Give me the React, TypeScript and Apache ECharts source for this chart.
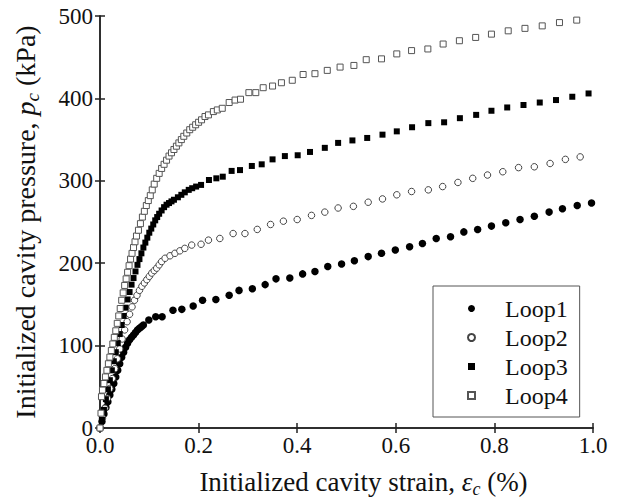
import React, { useEffect, useRef } from "react";
import * as echarts from "echarts";

const xTicks = [0, 0.2, 0.4, 0.6, 0.8, 1.0];
const yTicks = [0, 100, 200, 300, 400, 500];
const seriesNames = ["Loop1", "Loop2", "Loop3", "Loop4"];

const loop1 = [
  [0, 0], [0.004, 8], [0.008, 17], [0.012, 25], [0.016, 32], [0.02, 40], [0.024, 47], [0.028, 54],
  [0.032, 62], [0.036, 70], [0.04, 78], [0.044, 86], [0.048, 92], [0.052, 98], [0.056, 103], [0.06, 107],
  [0.064, 110], [0.068, 113], [0.072, 116], [0.076, 119], [0.08, 121], [0.084, 123], [0.088, 125],
  [0.099, 131], [0.113, 135], [0.126, 135], [0.148, 143], [0.166, 144], [0.189, 148], [0.208, 155],
  [0.235, 156], [0.262, 161], [0.282, 167], [0.309, 169], [0.335, 174], [0.357, 181], [0.385, 182],
  [0.411, 187], [0.436, 190], [0.462, 196], [0.49, 199], [0.516, 203], [0.544, 208], [0.571, 212],
  [0.599, 216], [0.628, 220], [0.654, 224], [0.682, 230], [0.711, 232], [0.738, 238], [0.766, 241],
  [0.794, 245], [0.823, 249], [0.852, 253], [0.881, 257], [0.911, 262], [0.938, 266], [0.968, 270],
  [0.997, 273],
];

const loop2 = [
  [0, 0], [0.005, 12], [0.01, 24], [0.015, 36], [0.02, 48], [0.025, 60], [0.03, 72], [0.035, 84],
  [0.04, 96], [0.045, 108], [0.05, 119], [0.055, 129], [0.06, 138], [0.065, 147], [0.07, 155],
  [0.075, 161], [0.08, 167], [0.085, 172], [0.09, 176], [0.095, 180], [0.1, 184], [0.105, 188],
  [0.11, 191], [0.115, 194], [0.12, 198], [0.125, 202], [0.132, 206], [0.142, 209], [0.152, 212],
  [0.162, 215], [0.172, 218], [0.186, 222], [0.205, 223], [0.22, 228], [0.243, 230], [0.27, 236],
  [0.294, 236], [0.319, 241], [0.346, 247], [0.372, 251], [0.4, 253], [0.429, 258], [0.456, 262],
  [0.483, 267], [0.514, 269], [0.544, 274], [0.573, 278], [0.602, 283], [0.632, 287], [0.666, 289],
  [0.695, 293], [0.726, 298], [0.756, 303], [0.786, 307], [0.817, 311], [0.849, 316], [0.881, 317],
  [0.913, 321], [0.944, 326], [0.974, 329],
];

const loop3 = [
  [0, 0], [0.004, 10], [0.008, 22], [0.012, 35], [0.016, 47], [0.02, 58], [0.024, 70], [0.028, 81],
  [0.032, 92], [0.036, 103], [0.04, 114], [0.044, 125], [0.048, 136], [0.052, 146], [0.056, 156],
  [0.06, 165], [0.064, 174], [0.068, 182], [0.072, 190], [0.076, 198], [0.08, 205], [0.084, 212],
  [0.088, 219], [0.092, 225], [0.096, 231], [0.1, 237], [0.104, 242], [0.108, 247], [0.112, 252],
  [0.116, 256], [0.12, 260], [0.125, 264], [0.13, 268], [0.135, 271], [0.14, 273], [0.145, 275],
  [0.15, 277], [0.158, 280], [0.165, 283], [0.172, 286], [0.18, 289], [0.187, 291], [0.195, 293],
  [0.205, 295], [0.221, 301], [0.236, 303], [0.249, 305], [0.267, 312], [0.284, 313], [0.308, 318],
  [0.328, 320], [0.35, 326], [0.375, 330], [0.401, 331], [0.426, 335], [0.456, 340], [0.483, 346],
  [0.512, 349], [0.542, 352], [0.573, 356], [0.602, 360], [0.633, 365], [0.666, 370], [0.698, 371],
  [0.73, 376], [0.763, 380], [0.794, 385], [0.826, 389], [0.859, 392], [0.892, 395], [0.925, 398],
  [0.958, 402], [0.991, 406],
];

const loop4 = [
  [0, 0], [0.002, 18], [0.003, 38], [0.005, 46], [0.008, 54], [0.011, 62], [0.014, 70], [0.017, 78],
  [0.02, 86], [0.023, 94], [0.026, 102], [0.029, 110], [0.032, 118], [0.035, 127], [0.038, 136],
  [0.041, 145], [0.044, 155], [0.047, 164], [0.05, 173], [0.053, 181], [0.056, 189], [0.059, 197],
  [0.062, 205], [0.065, 212], [0.068, 219], [0.071, 226], [0.074, 233], [0.078, 240], [0.082, 248],
  [0.086, 256], [0.09, 263], [0.094, 270], [0.098, 276], [0.102, 282], [0.106, 289], [0.11, 296],
  [0.115, 303], [0.12, 309], [0.125, 315], [0.13, 320], [0.135, 325], [0.14, 330], [0.145, 334],
  [0.15, 338], [0.155, 342], [0.16, 346], [0.165, 350], [0.17, 354], [0.176, 358], [0.182, 362],
  [0.188, 365], [0.194, 368], [0.2, 371], [0.206, 374], [0.213, 378], [0.22, 380], [0.23, 384],
  [0.238, 386], [0.248, 388], [0.262, 395], [0.274, 398], [0.285, 399], [0.302, 407], [0.316, 407],
  [0.331, 413], [0.35, 415], [0.368, 419], [0.39, 422], [0.412, 429], [0.436, 430], [0.461, 434],
  [0.487, 438], [0.515, 440], [0.54, 447], [0.571, 448], [0.602, 454], [0.632, 458], [0.665, 460],
  [0.696, 466], [0.729, 470], [0.762, 474], [0.794, 478], [0.828, 482], [0.862, 485], [0.897, 488],
  [0.932, 492], [0.967, 495],
];

const FONT = "Liberation Serif";

function richFor(size: number) {
  return {
    n: { fontFamily: FONT, fontSize: size, color: "#111", lineHeight: size + 6 },
    i: { fontFamily: FONT, fontSize: size, color: "#111", fontStyle: "italic", lineHeight: size + 6 },
    s: { fontFamily: FONT, fontSize: Math.round(size * 0.68), color: "#111", fontStyle: "italic", lineHeight: 12, verticalAlign: "bottom" },
  };
}

export default function App() {
  const ref = useRef<HTMLDivElement>(null);
  useEffect(() => {
    if (!ref.current) return;
    const chart = echarts.init(ref.current, null, { renderer: "svg" });
    const axisLine = { show: true, lineStyle: { color: "#222", width: 1.5 } };
    const tick = { show: true, inside: true, length: 5, lineStyle: { color: "#222", width: 1.5 } };
    chart.setOption({
      animation: false,
      backgroundColor: "#fff",
      textStyle: { fontFamily: FONT },
      grid: { left: 100, right: 30, top: 16, bottom: 74, containLabel: false, outerBoundsMode: "none" },
      legend: {
        data: seriesNames,
        orient: "vertical",
        left: 433,
        top: 286,
        padding: [8, 12, 7, 34],
        itemGap: 0,
        itemWidth: 7,
        itemHeight: 7,
        borderColor: "#555",
        borderWidth: 1,
        backgroundColor: "#fff",
        textStyle: { fontFamily: FONT, fontSize: 24, color: "#111", lineHeight: 29, padding: [0, 0, 0, 25] },
      },
      xAxis: [
        {
          type: "value",
          min: 0,
          max: 1,
          interval: 0.2,
          position: "bottom",
          axisLine,
          axisTick: tick,
          splitLine: { show: false },
          axisLabel: {
            fontFamily: FONT,
            fontSize: 23,
            color: "#111",
            margin: 6,
            formatter: (v: number) => v.toFixed(1),
          },
          name: "{n|Initialized cavity strain, }{i|ε}{s|c}{n| (%)}",
          nameLocation: "middle",
          nameGap: 37,
          nameTextStyle: { fontFamily: FONT, rich: richFor(27), padding: [0, 0, 0, 34] },
        },
        {
          type: "value",
          min: 0,
          max: 1,
          interval: 0.2,
          position: "top",
          axisLine,
          axisTick: tick,
          axisLabel: { show: false },
          splitLine: { show: false },
        },
      ],
      yAxis: [
        {
          type: "value",
          min: 0,
          max: 500,
          interval: 100,
          position: "left",
          axisLine,
          axisTick: tick,
          splitLine: { show: false },
          axisLabel: { fontFamily: FONT, fontSize: 23, color: "#111", margin: 7 },
          name: "{n|Initialized cavity pressure, }{i|p}{s|c}{n| (kPa)}",
          nameLocation: "middle",
          nameGap: 58,
          nameTextStyle: { fontFamily: FONT, rich: richFor(28) },
        },
        {
          type: "value",
          min: 0,
          max: 500,
          interval: 100,
          position: "right",
          axisLine,
          axisTick: tick,
          axisLabel: { show: false },
          splitLine: { show: false },
        },
      ],
      series: [
        {
          name: "Loop1",
          type: "scatter",
          data: loop1,
          symbol: "circle",
          symbolSize: 7.5,
          itemStyle: { color: "#000", opacity: 1 },
        },
        {
          name: "Loop2",
          type: "scatter",
          data: loop2,
          symbol: "circle",
          symbolSize: 6.5,
          itemStyle: { color: "#fff", borderColor: "#444", borderWidth: 1, opacity: 1 },
        },
        {
          name: "Loop3",
          type: "scatter",
          data: loop3,
          symbol: "rect",
          symbolSize: 6,
          itemStyle: { color: "#000", opacity: 1 },
        },
        {
          name: "Loop4",
          type: "scatter",
          data: loop4,
          symbol: "rect",
          symbolSize: 6,
          itemStyle: { color: "#fff", borderColor: "#555", borderWidth: 1, opacity: 1 },
        },
      ],
    });
    return () => chart.dispose();
  }, []);
  return <div ref={ref} style={{ width: 623, height: 502, position: "absolute", left: 0, top: 0 }} />;
}
